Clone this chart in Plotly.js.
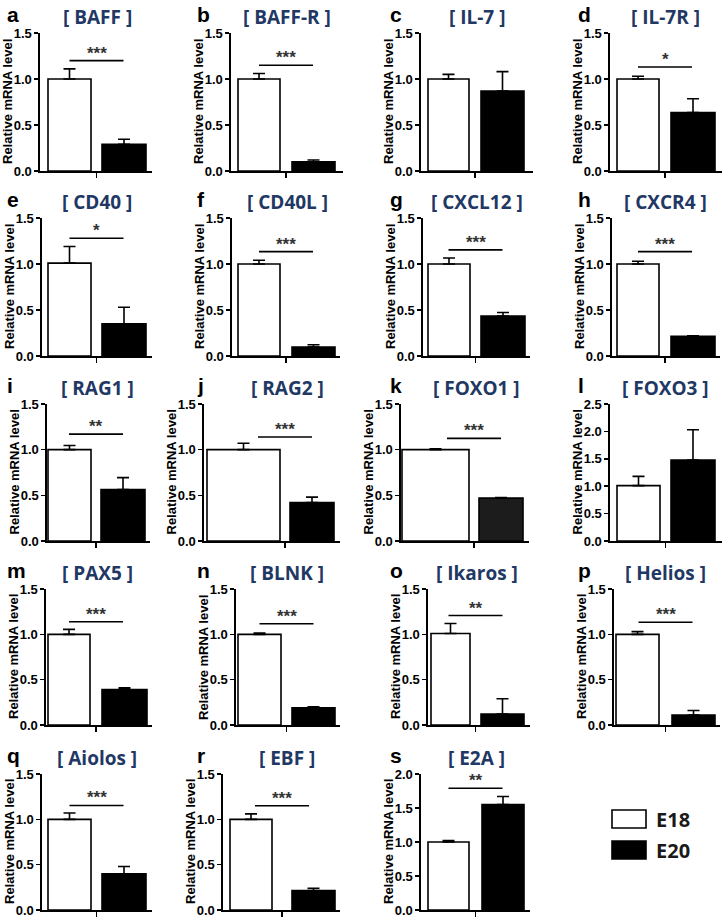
<!DOCTYPE html>
<html><head><meta charset="utf-8">
<script src="https://cdn.plot.ly/plotly-3.0.1.min.js"></script>
<style>body{margin:0;background:#fff}#chart{width:724px;height:920px}</style>
</head><body><div id="chart"></div>
<script>
// ---- data ----
const panelLetters = ['a','b','c','d','e','f','g','h','i','j','k','l','m','n','o','p','q','r','s'];
const genes = ['BAFF','BAFF-R','IL-7','IL-7R','CD40','CD40L','CXCL12','CXCR4','RAG1','RAG2','FOXO1','FOXO3','PAX5','BLNK','Ikaros','Helios','Aiolos','EBF','E2A'];
const groups = ['E18','E20'];
const e18Mean = [1.00,1.00,1.00,1.00,1.01,1.00,1.00,1.00,1.00,1.00,1.00,1.01,1.00,1.00,1.01,1.00,1.00,1.00,1.00];
const e18Sem  = [0.11,0.06,0.05,0.03,0.18,0.04,0.065,0.03,0.045,0.07,0.01,0.17,0.055,0.015,0.11,0.03,0.07,0.06,0.02];
const e20Mean = [0.29,0.10,0.87,0.636,0.35,0.098,0.433,0.215,0.564,0.422,0.469,1.476,0.39,0.19,0.12,0.11,0.40,0.215,1.55];
const e20Sem  = [0.055,0.02,0.21,0.15,0.18,0.025,0.04,0.005,0.13,0.058,0.007,0.555,0.02,0.01,0.17,0.05,0.08,0.025,0.12];
const sigLabel = ['***','***','','*','*','***','***','***','**','***','***','','***','***','**','***','***','***','**'];
const sigLevel = [1.20,1.15,null,1.13,1.28,1.135,1.153,1.135,1.17,1.138,1.124,null,1.138,1.116,1.207,1.134,1.153,1.15,1.79];
const yMax = [1.5,1.5,1.5,1.5,1.5,1.5,1.5,1.5,1.5,1.5,1.5,2.5,1.5,1.5,1.5,1.5,1.5,1.5,2.0];
const yTitle = 'Relative mRNA level';

// ---- layout geometry (pixels): axis start/end, white bar edges, black bar edges ----
const W = 724, H = 920;
const geom = [
  [40,152, 48,91, 102,146], [231,343, 238,280, 292,335], [421,533, 428,469, 481,524], [610,722, 617,659, 671,715],
  [42,152, 48,91, 102,146], [232,340, 238,280, 292,335], [423,530, 428,470, 481,525], [612,720, 617,659, 671,715],
  [47,150, 48,91, 101,145], [204,340, 207,280, 290,334], [401,529, 402,469, 479,523], [610,722, 617,660, 671,715],
  [46,152, 48,90, 102,147], [236,340, 238,281, 292,335], [428,530, 431,470, 481,524], [614,720, 616,659, 672,715],
  [42,152, 48,91, 102,146], [223,340, 230,272, 292,335], [421,530, 428,469, 482,524]
];
const rowT = [33, 218, 404, 589, 774];
const rowB = [171, 356, 541, 725, 910];
const letterX = [5, 195, 388, 576];
const titleX = [97, 287, 477, 665];
const sigHalf = 27;
const px = v => v / W;
const py = v => 1 - v / H;

const traces = [];
const shapes = [];
const annotations = [];
const layout = {
  width: W, height: H,
  margin: {l: 0, r: 0, t: 0, b: 0},
  paper_bgcolor: '#fff', plot_bgcolor: '#fff',
  showlegend: false,
  font: {family: 'Liberation Sans, Arial, sans-serif', color: '#000'}
};

genes.forEach((g, i) => {
  const r = Math.floor(i / 4), c = i % 4;
  const [L, R, w0, w1, b0, b1] = geom[i];
  const T = rowT[r], B = rowB[r];
  const wc = (w0 + w1) / 2, bc = (b0 + b1) / 2, u = bc - wc;
  const mid = ((w1 + b0) / 2 - wc) / u;
  const n = i + 1;
  const sfx = n === 1 ? '' : String(n);
  const xa = 'x' + sfx, ya = 'y' + sfx;

  traces.push({
    type: 'bar', x: [0, 1], y: [e18Mean[i], e20Mean[i]], width: [(w1 - w0) / u, (b1 - b0) / u],
    name: g, xaxis: xa, yaxis: ya, hoverinfo: 'skip',
    marker: {color: ['#ffffff', i === 10 ? '#1c1c1c' : '#000000'], line: {color: '#000', width: 1.6}},
    error_y: {type: 'data', symmetric: false, array: [e18Sem[i], e20Sem[i]], arrayminus: [0, 0],
              color: '#000', thickness: 1.6, width: 6}
  });

  layout['xaxis' + sfx] = {
    domain: [px(L), px(R)], anchor: ya, range: [(L - wc) / u, (R - wc) / u], fixedrange: true,
    showgrid: false, zeroline: false, showline: true, linecolor: '#000', linewidth: 1.6,
    tickvals: [mid], ticktext: [''], ticks: 'outside', ticklen: 5, tickwidth: 1.6, tickcolor: '#000'
  };
  layout['yaxis' + sfx] = {
    domain: [py(B), py(T)], anchor: xa, range: [0, yMax[i]], fixedrange: true,
    dtick: 0.5, tickformat: '.1f', showgrid: false, zeroline: false,
    showline: true, linecolor: '#000', linewidth: 1.6,
    ticks: 'outside', ticklen: 4, tickwidth: 1.6, tickcolor: '#000',
    tickfont: {family: 'Liberation Sans, Arial', size: 13, color: '#000', weight: 'bold'}
  };

  // y-axis title
  annotations.push({
    xref: 'paper', yref: 'paper', x: px(L - 33), y: py((T + B) / 2),
    text: '<b>' + yTitle + '</b>', textangle: -90, showarrow: false,
    xanchor: 'center', yanchor: 'middle',
    font: {family: 'Liberation Sans, Arial', size: 13, color: '#000'}
  });
  // panel letter
  annotations.push({
    xref: 'paper', yref: 'paper', x: px(letterX[c]), y: py(T - 19),
    text: '<b>' + panelLetters[i] + '</b>', showarrow: false,
    xanchor: 'left', yanchor: 'middle',
    font: {family: 'Liberation Sans, Arial', size: 21, color: '#000'}
  });
  // gene title
  annotations.push({
    xref: 'paper', yref: 'paper', x: px(titleX[c]), y: py(T - 16),
    text: '<b>[ ' + g + ' ]</b>', showarrow: false, xanchor: 'center', yanchor: 'middle',
    font: {family: 'Open Sans, Noto Sans, sans-serif', size: 19, color: '#1f3864'}
  });
  // significance
  if (sigLabel[i]) {
    shapes.push({type: 'line', xref: xa, yref: ya, x0: mid - sigHalf / u, x1: mid + sigHalf / u,
                 y0: sigLevel[i], y1: sigLevel[i], line: {color: '#000', width: 1.6}});
    annotations.push({
      xref: xa, yref: ya, x: mid, y: sigLevel[i], text: '<b>' + sigLabel[i] + '</b>', showarrow: false,
      xanchor: 'center', yanchor: 'bottom', yshift: -4,
      font: {family: 'Liberation Sans, Arial', size: 17, color: '#333'}
    });
  }
});

// legend
const legendFill = ['#ffffff', '#000000'];
const legendTop = [810, 841];
groups.forEach((grp, k) => {
  shapes.push({type: 'rect', xref: 'paper', yref: 'paper',
    x0: px(612), x1: px(646), y0: py(legendTop[k] + 18), y1: py(legendTop[k]),
    fillcolor: legendFill[k], line: {color: '#000', width: 1.6}});
  annotations.push({xref: 'paper', yref: 'paper', x: px(654), y: py(legendTop[k] + 9),
    text: '<b>' + grp + '</b>', showarrow: false, xanchor: 'left', yanchor: 'middle',
    font: {family: 'Open Sans, Noto Sans, sans-serif', size: 20, color: '#1a1a1a'}});
});

layout.shapes = shapes;
layout.annotations = annotations;
Plotly.newPlot('chart', traces, layout, {staticPlot: true, displayModeBar: false});
</script>
</body></html>
